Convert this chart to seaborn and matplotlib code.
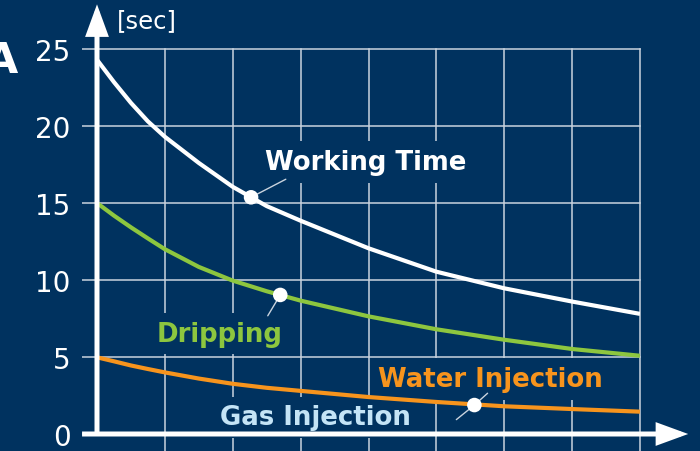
import matplotlib
matplotlib.use("Agg")
import matplotlib.pyplot as plt
import seaborn as sns
import pandas as pd

# values
x_vals = [0, 0.25, 0.5, 0.75, 1, 1.5, 2, 2.5, 3, 4, 5, 6, 7, 8]
working_time = [24.3, 22.85, 21.5, 20.3, 19.3, 17.6, 16.05, 14.8, 13.85,
                12.06, 10.54, 9.46, 8.6, 7.8]
dripping = [15.0, 14.18, 13.42, 12.7, 12.0, 10.85, 9.96, 9.27, 8.66,
            7.64, 6.8, 6.12, 5.52, 5.08]
water_injection = [4.98, 4.72, 4.45, 4.22, 4.0, 3.6, 3.26, 3.0, 2.8,
                   2.4, 2.08, 1.8, 1.62, 1.45]

series_names = ["Working Time", "Dripping", "Water Injection"]
dot_x = [2.27, 2.70, 5.56]
dot_y = [15.37, 9.03, 1.88]

y_ticks = [0, 5, 10, 15, 20, 25]
x_grid = [1, 2, 3, 4, 5, 6, 7, 8]

NAVY = "#00325f"
GRID = "#c9d3de"
WHITE = "#ffffff"
GREEN = "#8dc63f"
ORANGE = "#f7941d"
LIGHTBLUE = "#c4e4f6"

df = pd.DataFrame({
    "x": x_vals * 3,
    "sec": working_time + dripping + water_injection,
    "series": [s for s in series_names for _ in x_vals],
})

plt.rcParams["font.family"] = ["DejaVu Sans"]

fig = plt.figure(figsize=(7.0, 4.52), dpi=100, facecolor=NAVY)
ax = fig.add_axes([97 / 700, 17 / 452, 543 / 700, 385 / 452])
ax.set_facecolor(NAVY)

sns.lineplot(data=df, x="x", y="sec", hue="series",
             palette={"Working Time": WHITE, "Dripping": GREEN,
                      "Water Injection": ORANGE},
             linewidth=3.0, legend=False, ax=ax, zorder=3)
for ln in ax.get_lines():
    ln.set_solid_capstyle("butt")
    ln.set_solid_joinstyle("round")

sns.scatterplot(x=dot_x, y=dot_y, color=WHITE, s=110, edgecolor="none",
                ax=ax, zorder=5)

ax.set_xlim(0, 8)
ax.set_ylim(0, 25)
for sp in ax.spines.values():
    sp.set_visible(False)

ax.set_xticks(x_grid)
ax.set_xticklabels([])
ax.set_yticks(y_ticks)
ax.set_yticklabels([str(t) for t in y_ticks])
ax.tick_params(axis="y", direction="out", length=11, width=1.1, color=GRID,
               pad=8, labelsize=20, labelcolor=WHITE)
ax.tick_params(axis="x", direction="out", length=14, width=1.1, color=GRID)
ax.grid(True, color=GRID, linewidth=1.1)
ax.set_axisbelow(True)
for gl in ax.get_xgridlines() + ax.get_ygridlines():
    gl.set_clip_on(False)
ax.set_xlabel("")
ax.set_ylabel("")

# axes with arrow heads
arrow_kw = dict(arrowstyle="-|>,head_length=0.82,head_width=0.3",
                lw=3.6, color=WHITE, shrinkA=0, shrinkB=0,
                mutation_scale=20, joinstyle="miter", capstyle="butt")
ax.annotate("", xy=(8.71, 0), xytext=(-0.22, 0), arrowprops=arrow_kw,
            annotation_clip=False, zorder=6)
ax.annotate("", xy=(0, 27.9), xytext=(0, 0.1), arrowprops=arrow_kw,
            annotation_clip=False, zorder=6)

# curve labels
box = dict(boxstyle="square,pad=0.3", fc=NAVY, ec="none")
lab_kw = dict(fontsize=18.7, fontweight="bold", ha="left", va="baseline",
              zorder=2, bbox=box)
ax.text(2.47, 17.2, "Working Time", color=WHITE, **lab_kw)
ax.text(0.88, 6.06, "Dripping", color=GREEN, **lab_kw)
ax.text(4.14, 3.12, "Water Injection", color=ORANGE, **lab_kw)
ax.text(1.81, 0.63, "Gas Injection", color=LIGHTBLUE, **lab_kw)

# leader lines from the dots
lead = dict(arrowstyle="-", color=GRID, lw=1.0, shrinkA=0, shrinkB=0)
ax.annotate("", xy=(dot_x[0], dot_y[0]), xytext=(25, 13),
            textcoords="offset points", arrowprops=lead, zorder=4)
ax.annotate("", xy=(dot_x[1], dot_y[1]), xytext=(-9, -15),
            textcoords="offset points", arrowprops=lead, zorder=4)
ax.annotate("", xy=(dot_x[2], dot_y[2]), xytext=(-13, -10.5),
            textcoords="offset points", arrowprops=lead, zorder=4)
ax.annotate("", xy=(dot_x[2], dot_y[2]), xytext=(9.5, 8.5),
            textcoords="offset points", arrowprops=lead, zorder=4)

ax.text(0.29, 26.9, "[sec]", color=WHITE, fontsize=17.5, ha="left",
        va="center", clip_on=False)
fig.text(18 / 700, 1 - 73 / 452, "A", color=WHITE, fontsize=31,
         fontweight="bold", ha="right", va="baseline")

fig.savefig("out.png", dpi=100, facecolor=NAVY)
